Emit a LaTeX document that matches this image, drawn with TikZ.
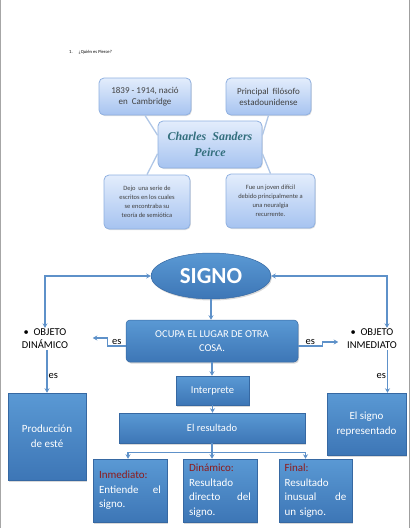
\documentclass[tikz,border=0pt]{standalone}
\usepackage{fontspec}
\setmainfont{Carlito}
\newfontfamily\peircefont{Liberation Serif}
\usetikzlibrary{positioning, arrows.meta, shapes.geometric, shadows, calc}

\definecolor{lightTop}{HTML}{E3EDFC}
\definecolor{lightBot}{HTML}{A6C3F0}
\definecolor{lightEdge}{HTML}{8FB0E0}
\definecolor{darkTop}{HTML}{5A99D4}
\definecolor{darkBot}{HTML}{3D76B6}
\definecolor{darkEdge}{HTML}{3668A2}
\definecolor{linkBlue}{HTML}{5E91C9}
\definecolor{spokeBlue}{HTML}{AFC6E6}
\definecolor{labelRed}{HTML}{8E1A1A}
\definecolor{peirceTeal}{HTML}{336F7D}

\begin{document}
\begin{tikzpicture}[x=1pt, y=-1pt, >={Stealth[length=4.5pt,width=5pt]}]
    \tikzset{
      pbox/.style={
        rectangle, rounded corners=5pt,
        draw=lightEdge, line width=0.8pt,
        top color=lightTop, bottom color=lightBot,
        align=center, text=black!75, inner sep=2pt,
        drop shadow={opacity=0.25, shadow xshift=0.8pt, shadow yshift=-1pt}
      },
      sbox/.style={
        rectangle, draw=darkEdge, line width=0.5pt,
        top color=darkTop, bottom color=darkBot,
        text=white, align=center, inner sep=2pt,
        font=\fontsize{11}{15}\selectfont,
        drop shadow={opacity=0.3, shadow xshift=1pt, shadow yshift=-1.5pt}
      },
      kind/.style={
        sbox, minimum width=74pt, minimum height=63pt,
        text width=62pt, align=left,
        font=\fontsize{11}{14.5}\selectfont
      },
      spoke/.style={draw=spokeBlue, line width=1.3pt},
      link/.style={draw=linkBlue, line width=1.2pt, ->},
      lbl/.style={font=\fontsize{10.5}{13}\selectfont, inner sep=1pt}
    }
    \useasboundingbox (0,0) rectangle (411,528);

    % page edges
    \draw[gray!70, line width=1pt] (0.5,0) -- (0.5,528);
    \draw[gray!75, line width=1.6pt] (409.6,0) -- (409.6,528);

    % Question
    \node[anchor=west, inner sep=0pt, font=\fontsize{4.6}{5}\selectfont] (q) at (69,52) {1.\hspace{6pt}¿Quién es Pierce?};

    % Peirce map
    \node[pbox, minimum width=104pt, minimum height=47pt,
          font=\peircefont\bfseries\itshape\fontsize{12}{16}\selectfont, text=peirceTeal] (cp) at (210,144.5) {Charles\ \ Sanders\\Peirce};
    \node[pbox, minimum width=92pt, minimum height=37pt, font=\fontsize{9}{11}\selectfont] (p1) at (145,96.5) {1839 - 1914, nació\\en\ \ Cambridge};
    \node[pbox, minimum width=85pt, minimum height=37pt, font=\fontsize{9}{11}\selectfont] (p2) at (268.5,96.5) {Principal\ \ filósofo\\estadounidense};
    \node[pbox, minimum width=86pt, minimum height=54pt, font=\fontsize{6.5}{9}\selectfont] (p3) at (147,202) {Dejo\ \ una serie de\\escritos en los cuales\\se encontraba su\\teoría de semiótica};
    \node[pbox, minimum width=89pt, minimum height=54pt, font=\fontsize{6.5}{9}\selectfont] (p4) at (270.5,201) {Fue un joven difícil\\debido principalmente a\\una neuralgia\\recurrente.};

    \draw[spoke] (p1.south) -- (cp.170);
    \draw[spoke] (p2.south) -- (cp.10);
    \draw[spoke] (cp.190) -- (p3.north);
    \draw[spoke] (cp.350) -- (p4.north);

    % Signo
    \node[ellipse, draw=darkEdge, line width=0.5pt, top color=darkTop, bottom color=darkBot,
          minimum width=120pt, minimum height=46pt, text=white,
          font=\bfseries\fontsize{23}{23}\selectfont,
          drop shadow={opacity=0.3, shadow xshift=1pt, shadow yshift=-1.5pt}] (signo) at (211,276) {SIGNO};
    \node[sbox, rounded corners=4pt, minimum width=172pt, minimum height=42pt,
          font=\fontsize{10.5}{13.5}\selectfont] (ocupa) at (212,341) {OCUPA EL LUGAR DE OTRA\\COSA.};
    \node[lbl, align=center] (odin) at (45,339) {•\ \ OBJETO\\DINÁMICO};
    \node[lbl, align=center] (oinm) at (372,339) {•\ \ OBJETO\\INMEDIATO};

    % Row of boxes
    \node[sbox, minimum width=78pt, minimum height=87pt] (prod) at (47,436.5) {Producción\\de esté};
    \node[sbox, minimum width=79pt, minimum height=62pt] (esig) at (366.5,424) {El signo\\representado};
    \node[sbox, minimum width=73pt, minimum height=29pt, font=\fontsize{10.5}{13}\selectfont] (interp) at (212.5,390.5) {Interprete};
    \node[sbox, minimum width=186pt, minimum height=30pt, font=\fontsize{10.5}{13}\selectfont] (result) at (212,428) {El resultado};

    \node[kind] (inm) at (130,490.5) {{\color{labelRed}Inmediato:}\\Entiende\hfill el\\signo.};
    \node[kind] (din) at (220,490.5) {{\color{labelRed}Dinámico:}\\Resultado\\directo\hfill del\\signo.};
    \node[kind, minimum width=73pt] (fin) at (315.5,490.5) {{\color{labelRed}Final:}\\Resultado\\inusual\hfill de\\un signo.};

    % Connectors
    \coordinate (eh) at ([xshift=15pt]oinm.north);
    \coordinate (ev) at ([xshift=21pt]esig.north);
    \draw[link, <->] (signo.west) -| (odin.north);
    \draw[link, <->] (signo.east) -| (eh);
    \draw[link] (signo.south) -- (signo.south |- ocupa.north);
    \draw[link] ([yshift=-5pt]ocupa.west) -- node[lbl, above]{es} ++(-18,0) -- ++(0,-8) -- ++(-15,0);
    \draw[link] ([yshift=-5pt]ocupa.east) -- node[lbl, above]{es} ++(24,0) -- ++(0,-4) -- ++(16,0);
    \draw[link] (prod.north |- odin.south) -- node[lbl, right, pos=0.6]{es} (prod.north);
    \draw[link] (ev |- oinm.south) -- node[lbl, left, pos=0.6]{es} (ev);
    \draw[link] (ocupa.south) -- (ocupa.south |- interp.north);
    \draw[link] (interp.south) -- (interp.south |- result.north);

    \coordinate (fork) at ($(result.south)+(0,9)$);
    \coordinate (c1) at ([xshift=-2pt]inm.north);
    \coordinate (c3) at ([xshift=-10pt]fin.north);
    \draw[link, -] (result.south) -- (fork);
    \draw[link, -] (fork -| c1) -- (fork -| c3);
    \draw[link] (fork -| c1) -- (c1);
    \draw[link] (fork) -- (fork |- din.north);
    \draw[link] (fork -| c3) -- (c3);
  \end{tikzpicture}
\end{document}
